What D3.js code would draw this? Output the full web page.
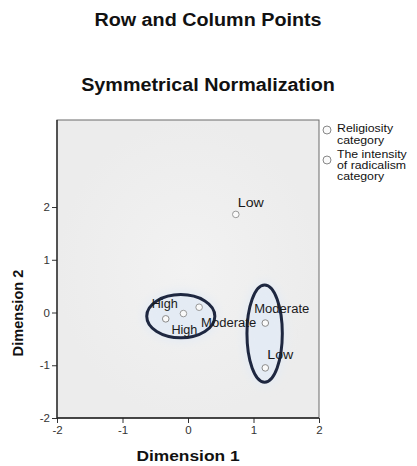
<!DOCTYPE html>
<html>
  <head>
    <meta charset="utf-8" />
    <script src="https://d3js.org/d3.v7.min.js"></script>
    <style>
      html,
      body {
        margin: 0;
        background: #fff;
        font-family: Arial, "Liberation Sans", sans-serif;
      }
    </style>
  </head>
  <body>
    <div id="chart"></div>
    <script>
      // row points (religiosity) and column points (radicalism)
      const labels = ["High", "High", "Moderate", "Moderate", "Low", "Low"];
      const series = ["rel", "rad", "rad", "rel", "rel", "rad"];
      const dim1 = [-0.34, -0.07, 0.17, 1.18, 1.18, 0.73];
      const dim2 = [-0.12, -0.02, 0.1, -0.2, -1.05, 1.86];
      // label offset from its point, pixels (SPSS label placement)
      const labelDx = [-14, -12, 2, -11, 2, 2];
      const labelDy = [-11, 20, 20, -10, -9, -7];

      // circled groups: centre and radii in dimension units
      const groupCx = [-0.11, 1.17];
      const groupCy = [-0.07, -0.4];
      const groupRx = [0.52, 0.27];
      const groupRy = [0.41, 0.92];

      const xTicks = [-2, -1, 0, 1, 2];
      const yTicks = [-2, -1, 0, 1, 2];
      const legendItems = [
        ["Religiosity", "category"],
        ["The intensity", "of radicalism", "category"],
      ];

      const width = 417;
      const height = 466;
      const stretch = 1.13;

      const svg = d3
        .select("#chart")
        .append("svg")
        .attr("width", width)
        .attr("height", height);

      const x = d3.scaleLinear().domain([-2, 2]).range([57, 319]);
      const y = d3.scaleLinear().domain([-2, 3.65]).range([418, 120]);

      function addText(tx, ty, str, size, weight, anchor, sx) {
        return svg
          .append("text")
          .attr("transform", `translate(${tx},${ty}) scale(${sx || 1},1)`)
          .attr("text-anchor", anchor || "start")
          .attr("font-size", size)
          .attr("font-weight", weight || "normal")
          .attr("fill", "#111")
          .text(str);
      }

      //titles
      addText(208, 26, "Row and Column Points", 17.5, "bold", "middle", stretch);
      addText(208, 91, "Symmetrical Normalization", 17.5, "bold", "middle", stretch);

      //plot background
      const grad = svg
        .append("defs")
        .append("radialGradient")
        .attr("id", "bg");
      grad.append("stop").attr("offset", "0%").attr("stop-color", "#f2f2f2");
      grad.append("stop").attr("offset", "100%").attr("stop-color", "#ececec");

      const glow = svg
        .select("defs")
        .append("filter")
        .attr("id", "blur")
        .attr("x", "-50%")
        .attr("y", "-50%")
        .attr("width", "200%")
        .attr("height", "200%");
      glow.append("feGaussianBlur").attr("stdDeviation", 5);

      svg
        .append("rect")
        .attr("x", x(-2))
        .attr("y", y(3.65))
        .attr("width", x(2) - x(-2))
        .attr("height", y(-2) - y(3.65))
        .attr("fill", "url(#bg)")
        .attr("stroke", "#6a6a6a")
        .attr("stroke-width", 1);

      //axes
      const fmt = (d) => String(d);
      const xAxis = svg
        .append("g")
        .attr("transform", `translate(0,${y(-2)})`)
        .call(
          d3.axisBottom(x).tickValues(xTicks).tickFormat(fmt).tickSize(5).tickPadding(3)
        );
      const yAxis = svg
        .append("g")
        .attr("transform", `translate(${x(-2)},0)`)
        .call(
          d3.axisLeft(y).tickValues(yTicks).tickFormat(fmt).tickSize(5).tickPadding(2)
        );
      [xAxis, yAxis].forEach((a) => {
        a.select(".domain").remove();
        a.selectAll("line").attr("stroke", "#333");
        a.selectAll("text")
          .attr("font-size", 11.5)
          .attr("fill", "#333")
          .attr("font-family", "Arial, Liberation Sans, sans-serif");
      });
      svg
        .append("path")
        .attr("d", `M${x(-2)},${y(3.65)}V${y(-2)}H${x(2)}`)
        .attr("fill", "none")
        .attr("stroke", "#222")
        .attr("stroke-width", 1.3);

      addText(188, 461, "Dimension 1", 15.5, "bold", "middle", 1.12);
      svg
        .append("text")
        .attr("transform", `translate(23,313) rotate(-90)`)
        .attr("text-anchor", "middle")
        .attr("font-size", 14.6)
        .attr("font-weight", "bold")
        .attr("fill", "#111")
        .text("Dimension 2");

      //group ellipses: soft halo then outline
      const groups = d3.range(groupCx.length);
      svg
        .selectAll(".halo")
        .data(groups)
        .enter()
        .append("ellipse")
        .attr("class", "halo")
        .attr("cx", (i) => x(groupCx[i]))
        .attr("cy", (i) => y(groupCy[i]))
        .attr("rx", (i) => x(groupRx[i]) - x(0) + 4)
        .attr("ry", (i) => y(0) - y(groupRy[i]) + 4)
        .attr("fill", "#e4ebf4")
        .attr("filter", "url(#blur)");
      svg
        .selectAll(".ring")
        .data(groups)
        .enter()
        .append("ellipse")
        .attr("class", "ring")
        .attr("cx", (i) => x(groupCx[i]))
        .attr("cy", (i) => y(groupCy[i]))
        .attr("rx", (i) => x(groupRx[i]) - x(0))
        .attr("ry", (i) => y(0) - y(groupRy[i]))
        .attr("fill", "none")
        .attr("stroke", "#1e2740")
        .attr("stroke-width", 3);

      //points
      const idx = d3.range(labels.length);
      svg
        .selectAll(".pt")
        .data(idx)
        .enter()
        .append("circle")
        .attr("class", "pt")
        .attr("cx", (i) => x(dim1[i]))
        .attr("cy", (i) => y(dim2[i]))
        .attr("r", 3.3)
        .attr("fill", "#fafafa")
        .attr("stroke", (i) => (series[i] === "rel" ? "#8a8a8a" : "#999"))
        .attr("stroke-width", 1);

      svg
        .selectAll(".lbl")
        .data(idx)
        .enter()
        .append("text")
        .attr("class", "lbl")
        .attr("x", (i) => x(dim1[i]) + labelDx[i])
        .attr("y", (i) => y(dim2[i]) + labelDy[i])
        .attr("font-size", 12)
        .attr("fill", "#1a1a1a")
        .attr("textLength", (i) => (labels[i].length > 4 ? 55 : 26))
        .attr("lengthAdjust", "spacingAndGlyphs")
        .text((i) => labels[i]);

      //legend
      const legendY = [130, 160];
      const lineY = [
        [128, 140],
        [154, 165, 176],
      ];
      legendItems.forEach((lines, k) => {
        svg
          .append("circle")
          .attr("cx", 327)
          .attr("cy", legendY[k])
          .attr("r", 4)
          .attr("fill", "#fafafa")
          .attr("stroke", "#888");
        lines.forEach((t, j) => {
          addText(337, lineY[k][j] + 4, t, 11, "normal", "start", 1.12);
        });
      });
    </script>
  </body>
</html>
